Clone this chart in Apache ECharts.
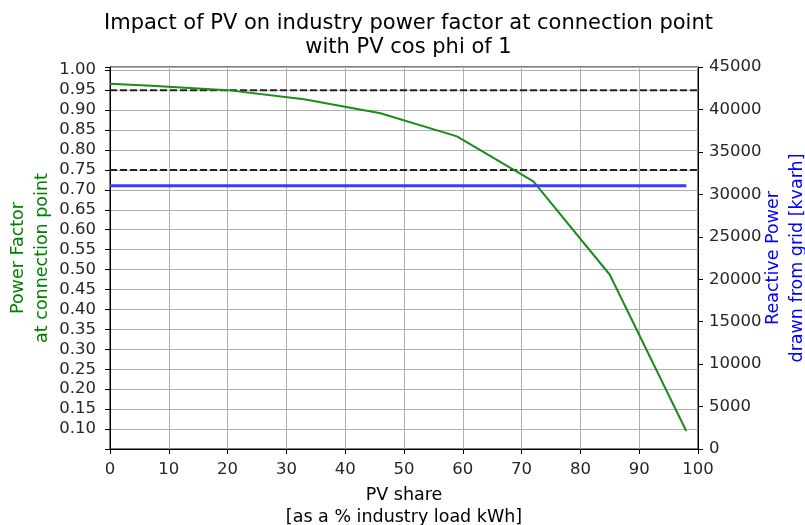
<!DOCTYPE html>
<html><head><meta charset="utf-8">
<script src="https://cdn.jsdelivr.net/npm/echarts@6/dist/echarts.min.js"></script>
<style>html,body{margin:0;padding:0;background:#fff}#c{width:805px;height:525px}</style>
</head><body><div id="c"></div>
<script>
const pvShare = [0, 7, 20, 33, 46, 59, 72, 85, 98];
const powerFactor = [0.966, 0.961, 0.950, 0.927, 0.892, 0.834, 0.721, 0.487, 0.095];
const reactivePower = [31000, 31000, 31000, 31000, 31000, 31000, 31000, 31000, 31000];
const pfThresholds = [0.95, 0.75];
const xRange = [0, 100];
const titleLines = ['Impact of PV on industry power factor at connection point', 'with PV cos phi of 1'];

const font = 'DejaVu Sans';
const chart = echarts.init(document.getElementById('c'), null, {renderer: 'canvas'});
const thresholdSeries = pfThresholds.map(v => ({
  type: 'line', yAxisIndex: 0, symbol: 'none', silent: true,
  data: xRange.map(x => [x, v]),
  lineStyle: {color: '#222222', width: 2, type: [7, 3]}, z: 3
}));
chart.setOption({
  animation: false,
  textStyle: {fontFamily: font},
  title: {text: titleLines.join('\n'), left: 403.5, textAlign: 'center', top: 7,
    textStyle: {fontFamily: font, fontSize: 21, fontWeight: 'normal', color: '#000', lineHeight: 24}},
  grid: {left: 110, right: 107, top: 67, bottom: 76, containLabel: false, outerBoundsMode: 'none',
    show: true, borderColor: '#000', borderWidth: 1, backgroundColor: 'transparent'},
  xAxis: {type: 'value', min: 0, max: 100, interval: 10,
    name: 'PV share\n[as a % industry load kWh]', nameLocation: 'middle', nameGap: 35, nameMoveOverlap: false,
    nameTextStyle: {fontFamily: font, fontSize: 17.5, color: '#000', lineHeight: 22},
    axisLine: {show: true, lineStyle: {color: '#000', width: 1}},
    axisTick: {show: true, inside: false, length: 5, lineStyle: {color: '#000'}},
    axisLabel: {fontFamily: font, fontSize: 16.5, color: '#262626', margin: 12},
    splitLine: {show: true, lineStyle: {color: '#b0b0b0', width: 1}}},
  yAxis: [
    {type: 'value', min: 0.05, max: 1.008, interval: 0.05, position: 'left',
      name: 'Power Factor\nat connection point', nameLocation: 'middle', nameGap: 56, nameRotate: 90, nameMoveOverlap: false,
      nameTextStyle: {fontFamily: font, fontSize: 17.5, color: 'green', lineHeight: 24},
      axisLine: {show: true, lineStyle: {color: '#000', width: 1}},
      axisTick: {show: true, length: 5, lineStyle: {color: '#000'}},
      axisLabel: {fontFamily: font, fontSize: 16.5, color: '#262626', margin: 14,
        formatter: v => { const k = v / 0.05; return (Math.abs(k - Math.round(k)) < 1e-6 && v > 0.07 && v < 1.001) ? v.toFixed(2) : ''; }},
      splitLine: {show: true, lineStyle: {color: '#b0b0b0', width: 1}}},
    {type: 'value', min: 0, max: 45000, interval: 5000, position: 'right',
      name: 'Reactive Power\ndrawn from grid [kvarh]', nameLocation: 'middle', nameGap: 63, nameRotate: 90, nameMoveOverlap: false,
      nameTextStyle: {fontFamily: font, fontSize: 17.5, color: 'blue', lineHeight: 24},
      axisLine: {show: true, lineStyle: {color: '#000', width: 1}},
      axisTick: {show: true, length: 5, lineStyle: {color: '#000'}},
      axisLabel: {fontFamily: font, fontSize: 16.5, color: '#262626', margin: 11, formatter: v => String(v)},
      splitLine: {show: false}}
  ],
  series: [
    {type: 'line', yAxisIndex: 0, symbol: 'none', data: pvShare.map((x, i) => [x, powerFactor[i]]),
      lineStyle: {color: '#1a8c1a', width: 2}, z: 4},
    {type: 'line', yAxisIndex: 1, symbol: 'none', data: pvShare.map((x, i) => [x, reactivePower[i]]),
      lineStyle: {color: '#3b3bff', width: 3}, z: 4},
    ...thresholdSeries
  ]
});
</script></body></html>
